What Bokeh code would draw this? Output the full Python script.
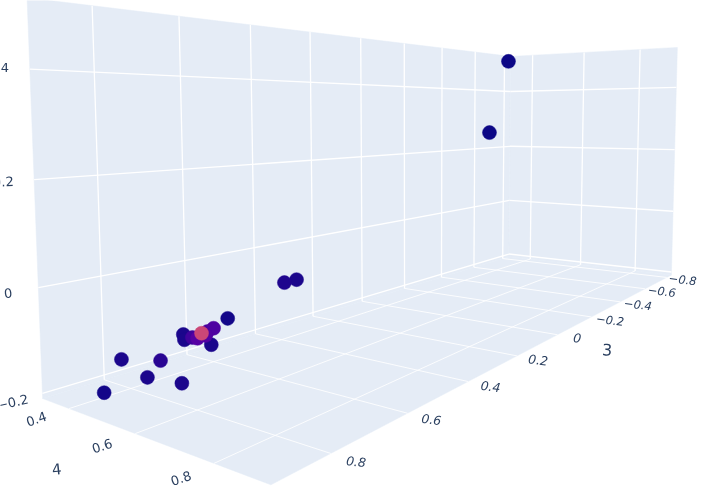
import numpy as np
from bokeh.plotting import figure
from bokeh.models import ColumnDataSource, Range1d, LinearColorMapper
from bokeh.palettes import Plasma256
from bokeh.core.properties import value
from bokeh.embed import file_html
from bokeh.resources import INLINE

# data: axis "4", axis "3", vertical axis, colour value
axis4 = [.45,.45,.5,.5,.6,.6,.6,.6,.6,.6,.6,.6,.65,.55,.65,.6,.7,.5,.6]
axis3 = [-.583,-.465,.448,.485,.727,.760,.774,.778,.796,.807,.826,.824,.806,.915,.909,.900,.906,.918,.787]
axisz = [.489,.259,-.047,-.047,-.059,-.070,-.073,-.079,-.080,-.076,-.066,-.076,-.081,-.096,-.082,-.122,-.111,-.163,-.073]
colour = [0,0,.02,.03,.01,.13,.12,.14,.15,.10,.02,.02,.02,.02,.05,.02,.02,.01,.5]

ticks4 = [.4,.6,.8]
ticks3_far = [-.8,-.6,-.4,-.2]
ticks3_near = [0,.2,.4,.6,.8]
ticksz = [-.2,0,.2,.4]
labels4 = ["0.4","0.6","0.8"]
labels3_far = ["\u22120.8","\u22120.6","\u22120.4","\u22120.2"]
labels3_near = ["0","0.2","0.4","0.6","0.8"]
labelsz = ["\u22120.2","0","0.2","0.4"]
ticks3 = ticks3_far + ticks3_near

# scene box and camera
U0,U1,V0,V1,W0,W1 = .31,.924,-.846,.926,-.21,.527
CAM = np.array([[164.45793,-336.53232,-13.91994,283.65633],
                [-28.67602,-38.74622,-334.48465,219.43033],
                [-0.23768,-0.34355,-0.03356,1.0]])
def proj(u,v,w):
    u,v,w = np.broadcast_arrays(np.asarray(u,float),np.asarray(v,float),np.asarray(w,float))
    h = CAM @ np.vstack([u.ravel(),v.ravel(),w.ravel(),np.ones(u.size)])
    return (h[0]/h[2]).tolist(), (h[1]/h[2]).tolist()

p = figure(width=708,height=495,output_backend="svg",toolbar_location=None,
           x_range=Range1d(0,708),y_range=Range1d(495,0),min_border=0)
p.axis.visible=False; p.grid.visible=False; p.outline_line_color=None
p.styles={"position":"fixed","left":"0","top":"0"}

def seg(a,b):
    return proj([a[0],b[0]],[a[1],b[1]],[a[2],b[2]])

# panes
for q in [[(U0,V0,W0),(U0,V1,W0),(U1,V1,W0),(U1,V0,W0)],
          [(U0,V0,W0),(U0,V1,W0),(U0,V1,W1),(U0,V0,W1)],
          [(U0,V0,W0),(U1,V0,W0),(U1,V0,W1),(U0,V0,W1)]]:
    x,y = proj(*zip(*q))
    p.patch(x,y,fill_color="#E5ECF6",line_color="#E5ECF6",line_width=.5)

# grid lines
wall=[]; floor=[]
for v in ticks3:
    wall.append(seg((U0,v,W0),(U0,v,W1)))
    floor.append(seg((U0,v,W0),(U1,v,W0)))
for u in ticks4:
    wall.append(seg((u,V0,W0),(u,V0,W1)))
    floor.append(seg((u,V0,W0),(u,V1,W0)))
for w in ticksz:
    wall.append(seg((U0,V0,w),(U0,V1,w)))
    wall.append(seg((U0,V0,w),(U1,V0,w)))
p.multi_line([s[0] for s in floor],[s[1] for s in floor],line_color="white",line_width=1,line_alpha=.85)
p.multi_line([s[0] for s in wall],[s[1] for s in wall],line_color="white",line_width=1.3)

# points
mx,my = proj(axis4,axis3,axisz)
mapper = LinearColorMapper(palette=Plasma256,low=0,high=1)
order = np.argsort(colour,kind="stable")
src = ColumnDataSource(dict(x=[mx[i] for i in order],y=[my[i] for i in order],c=[colour[i] for i in order]))
p.scatter("x","y",source=src,size=14,fill_color={"field":"c","transform":mapper},line_color={"field":"c","transform":mapper},line_width=.5)

# tick labels and titles
def labels(x,y,t,ang,size,style="normal"):
    s = ColumnDataSource(dict(x=x,y=y,t=t,a=np.radians(ang).tolist()))
    p.text("x","y",text="t",angle="a",source=s,text_align="center",text_baseline="middle",
           text_font=value("DejaVu Sans"),text_font_size=value(size),text_color="#2a3f5f",text_font_style=style)

x,y = proj(ticks4,V1+.06,W0); labels(x,y,labels4,[18,18,18],"13px")
x,y = proj(U1+.052,ticks3_far,W0); labels(x,y,labels3_far,[-7]*4,"11.5px","italic")
x,y = proj(U1+.052,ticks3_near,W0); labels(x,y,labels3_near,[-7]*5,"12.5px","italic")
x,y = proj(U0,V1+.055,ticksz); labels(x,y,labelsz,[12,6,3,0],"13px")
x,y = proj(.617,V1+.145,W0); labels(x,y,["4"],[6],"15px")
x,y = proj(U1+.146,.046,W0); labels(x,y,["3"],[-3],"16px")

open("out.html","w").write(file_html(p,INLINE))
